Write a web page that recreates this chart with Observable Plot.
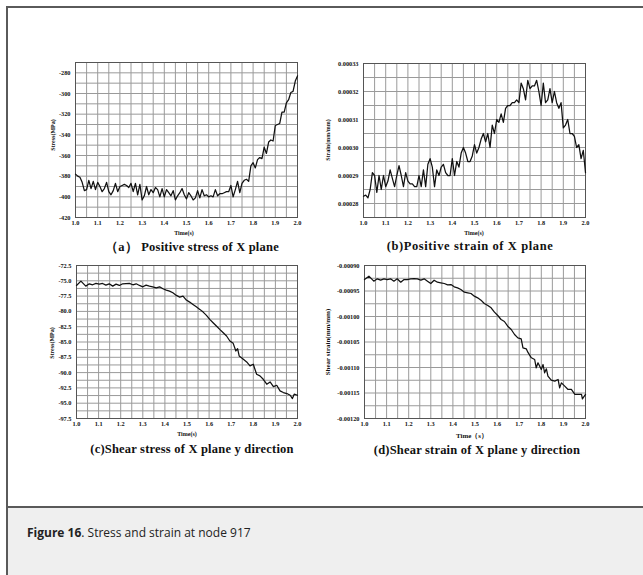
<!DOCTYPE html>
<html>
<head>
<meta charset="utf-8">
<script src="https://cdn.jsdelivr.net/npm/d3@7"></script>
<script src="https://cdn.jsdelivr.net/npm/@observablehq/plot@0.6"></script>
<style>
  body { margin: 0; background: #fff; }
  #root { position: relative; width: 643px; height: 575px; overflow: hidden; background: #fff; }
  .abs { position: absolute; white-space: nowrap; }
  .ser { font-family: "Liberation Serif", "Times New Roman", serif; font-weight: bold; color: #111; }
  .cap { font-size: 12.5px; transform: translate(-50%, -50%); }
  .xl { font-size: 6px; transform: translate(-50%, -50%); }
  .yl { font-size: 6px; transform: translate(-50%, -50%) rotate(-90deg); }
  svg { overflow: visible; }
</style>
</head>
<body>
<div id="root">
  <div class="abs" style="left:6px;top:6px;width:640px;height:500px;border-left:2px solid #5a5a5a;border-top:2px solid #5a5a5a;"></div>
  <div class="abs" style="left:6px;top:506px;width:640px;height:69px;background:#efefef;border-left:2px solid #5a5a5a;border-top:2px solid #5a5a5a;"></div>
  <div class="abs" id="figcap" style="left:27px;top:524px;font-family:'Open Sans',sans-serif;font-size:12.5px;color:#222;transform:scaleX(0.96);transform-origin:0 0;">
    <b>Figure 16</b>. Stress and strain at node 917
  </div>
</div>
<script>
// ---------- data ----------
const time01 = [1.00,1.01,1.02,1.03,1.04,1.05,1.06,1.07,1.08,1.09,
  1.10,1.11,1.12,1.13,1.14,1.15,1.16,1.17,1.18,1.19,
  1.20,1.21,1.22,1.23,1.24,1.25,1.26,1.27,1.28,1.29,
  1.30,1.31,1.32,1.33,1.34,1.35,1.36,1.37,1.38,1.39,
  1.40,1.41,1.42,1.43,1.44,1.45,1.46,1.47,1.48,1.49,
  1.50,1.51,1.52,1.53,1.54,1.55,1.56,1.57,1.58,1.59,
  1.60,1.61,1.62,1.63,1.64,1.65,1.66,1.67,1.68,1.69,
  1.70,1.71,1.72,1.73,1.74,1.75,1.76,1.77,1.78,1.79,
  1.80,1.81,1.82,1.83,1.84,1.85,1.86,1.87,1.88,1.89,
  1.90,1.91,1.92,1.93,1.94,1.95,1.96,1.97,1.98,1.99,2.00];

// (a) positive stress of X plane, MPa
const stressA = [-378,-380,-381,-386,-394,-393,-384,-392,-385,-393,
  -386,-390,-395,-392,-386,-395,-398,-394,-387,-395,
  -390,-389,-388,-389,-391,-387,-395,-387,-398,-388,
  -403,-399,-390,-398,-393,-396,-391,-393,-400,-392,
  -400,-393,-396,-399,-394,-403,-399,-396,-392,-398,
  -402,-396,-399,-403,-401,-394,-401,-393,-399,-398,
  -400,-399,-400,-393,-399,-397,-397,-396,-395,-395,
  -389,-400,-393,-385,-396,-387,-384,-383,-385,-370,
  -367,-372,-364,-362,-363,-352,-358,-347,-345,-346,
  -331,-330,-329,-318,-318,-309,-306,-299,-298,-288,-283];

// (b) positive strain of X plane, mm/mm
const strainB = [0.0002826,0.000283,0.000282,0.000285,0.000291,0.000290,0.000284,0.000290,0.000285,0.000290,
  0.000286,0.000288,0.000292,0.000289,0.000286,0.000290,0.0002935,0.000290,0.000286,0.000291,
  0.000288,0.000287,0.000287,0.000286,0.000286,0.000290,0.000286,0.000292,0.000286,0.000294,
  0.000296,0.000293,0.000286,0.000292,0.000290,0.000293,0.000294,0.000291,0.000290,0.000290,
  0.000296,0.000290,0.000295,0.000293,0.000298,0.000300,0.000298,0.000295,0.000295,0.000297,
  0.000301,0.000298,0.000300,0.000303,0.000305,0.000302,0.000305,0.000300,0.000308,0.000305,
  0.000310,0.000309,0.000312,0.000309,0.000314,0.000315,0.000315,0.000316,0.000316,0.000317,
  0.000316,0.000323,0.000321,0.000317,0.000324,0.000321,0.000322,0.000322,0.000324,0.000320,
  0.000315,0.000323,0.000316,0.000317,0.000321,0.000316,0.000320,0.000316,0.000314,0.000316,
  0.000307,0.000308,0.000310,0.000305,0.000305,0.000304,0.000300,0.000301,0.000296,0.000299,0.000291];

// (c) shear stress of X plane y direction, MPa
const timeC = [1.000,1.020,1.042,1.058,1.073,1.088,1.103,1.118,1.133,1.148,1.164,1.179,1.194,1.209,1.239,1.255,1.270,1.285,
  1.300,1.315,1.330,1.345,1.361,1.376,1.391,1.406,1.421,1.436,1.452,1.467,1.482,1.497,1.512,1.527,1.542,1.558,1.573,
  1.588,1.603,1.618,1.633,1.648,1.664,1.679,1.694,1.709,1.721,1.729,1.736,1.755,1.770,1.785,1.800,1.815,1.830,1.845,
  1.861,1.876,1.891,1.906,1.921,1.936,1.952,1.967,1.977,1.985,2.000];
const shearStressC = [-75.76,-75.05,-75.87,-75.49,-75.65,-75.43,-75.54,-75.43,-75.71,-75.49,-75.87,-75.54,-75.76,-75.49,-75.43,-75.65,-75.49,-75.76,
  -75.98,-75.71,-75.87,-75.98,-76.14,-75.98,-76.30,-76.52,-76.68,-76.96,-77.39,-77.66,-77.50,-78.15,-78.48,-78.86,-79.24,-79.67,-80.11,
  -80.65,-81.30,-81.85,-82.39,-82.93,-83.48,-84.02,-84.84,-85.22,-86.47,-86.09,-87.28,-87.83,-88.26,-88.91,-88.64,-90.27,-90.54,-91.09,
  -91.90,-91.52,-92.28,-92.07,-92.99,-93.26,-93.42,-93.70,-94.24,-93.53,-93.70];

// (d) shear strain of X plane y direction, mm/mm
const timeD = [1.000,1.020,1.042,1.058,1.073,1.088,1.103,1.118,1.133,1.148,1.164,1.179,1.194,1.209,1.224,1.239,1.255,1.270,1.285,
  1.300,1.315,1.330,1.345,1.361,1.376,1.391,1.406,1.421,1.436,1.452,1.467,1.482,1.497,1.512,1.527,1.542,1.558,1.573,1.588,
  1.603,1.618,1.633,1.648,1.664,1.679,1.694,1.709,1.717,1.732,1.739,1.755,1.770,1.777,1.785,1.800,1.808,1.815,1.823,1.830,
  1.845,1.861,1.876,1.883,1.891,1.906,1.921,1.936,1.952,1.967,1.982,1.986,2.000];
const shearStrainD = [-0.0009275,-0.0009209,-0.0009307,-0.0009261,-0.0009288,-0.0009261,-0.0009275,-0.0009261,-0.0009307,-0.0009261,-0.0009327,-0.0009275,-0.0009275,-0.0009261,-0.0009255,-0.0009261,-0.0009288,-0.0009261,-0.0009307,
  -0.0009353,-0.0009288,-0.0009327,-0.0009340,-0.0009353,-0.0009379,-0.0009373,-0.0009418,-0.0009438,-0.0009471,-0.0009523,-0.0009536,-0.0009549,-0.0009601,-0.0009634,-0.0009680,-0.0009745,-0.0009784,-0.0009830,-0.0009915,
  -0.0009980,-0.0010059,-0.0010098,-0.0010190,-0.0010255,-0.0010353,-0.0010418,-0.0010438,-0.0010614,-0.0010634,-0.0010699,-0.0010810,-0.0010843,-0.0011007,-0.0010908,-0.0011039,-0.0010941,-0.0011105,-0.0011026,-0.0011170,
  -0.0011248,-0.0011268,-0.0011235,-0.0011399,-0.0011301,-0.0011366,-0.0011431,-0.0011431,-0.0011529,-0.0011529,-0.0011529,-0.0011614,-0.0011529];

// ticks and grid
const xTicks = [1.0,1.1,1.2,1.3,1.4,1.5,1.6,1.7,1.8,1.9,2.0];
const xGrid = [1.0,1.05,1.1,1.15,1.2,1.25,1.3,1.35,1.4,1.45,1.5,1.55,1.6,1.65,1.7,1.75,1.8,1.85,1.9,1.95,2.0];
const yTicksA = [-420,-400,-380,-360,-340,-320,-300,-280];
const yGridA = [-420,-410,-400,-390,-380,-370,-360,-350,-340,-330,-320,-310,-300,-290,-280,-270];
const yTicksB = [0.00028,0.00029,0.00030,0.00031,0.00032,0.00033];
const yGridB = [0.000275,0.00028,0.000285,0.00029,0.000295,0.00030,0.000305,0.00031,0.000315,0.00032,0.000325,0.00033];
const yTicksC = [-97.5,-95.0,-92.5,-90.0,-87.5,-85.0,-82.5,-80.0,-77.5,-75.0,-72.5];
const yGridC = [-97.5,-96.25,-95.0,-93.75,-92.5,-91.25,-90.0,-88.75,-87.5,-86.25,-85.0,-83.75,-82.5,-81.25,-80.0,-78.75,-77.5,-76.25,-75.0,-73.75,-72.5];
const yTicksD = [-0.00120,-0.00115,-0.00110,-0.00105,-0.00100,-0.00095,-0.00090];
const yGridD = [-0.00120,-0.001175,-0.00115,-0.001125,-0.00110,-0.001075,-0.00105,-0.001025,-0.00100,-0.000975,-0.00095,-0.000925,-0.00090];

const panels = [
  {t: time01, v: stressA, yDomain: [-420, -270], yTicks: yTicksA, yGrid: yGridA, fmt: d => String(d),
   fx: 75, fy: 62, fw: 222, fh: 155, mL: 40,
   ylab: "Stress(MPa)", ylx: 53, yly: 135, ylfs: 6,
   xlab: "Time(s)", xlx: 184, xly: 233, xlfs: 6,
   cap: "（a） Positive stress of X plane", cx: 192, cy: 247, ls: 0.2},
  {t: time01, v: strainB, yDomain: [0.000275, 0.00033], yTicks: yTicksB, yGrid: yGridB, fmt: d => d.toFixed(5),
   fx: 363, fy: 63, fw: 222, fh: 154, mL: 40,
   ylab: "Strain(mm/mm)", ylx: 328, yly: 140, ylfs: 6,
   xlab: "Time(s)", xlx: 474, xly: 233, xlfs: 6,
   cap: "(b)Positive strain of X plane", cx: 470, cy: 246, ls: 0.6},
  {t: timeC, v: shearStressC, yDomain: [-97.5, -72.5], yTicks: yTicksC, yGrid: yGridC, fmt: d => d.toFixed(1),
   fx: 76, fy: 265, fw: 221, fh: 153, mL: 40,
   ylab: "Stress(MPa)", ylx: 52, yly: 343, ylfs: 6,
   xlab: "Time(s)", xlx: 187, xly: 434, xlfs: 6,
   cap: "(c)Shear stress of X plane y direction", cx: 192, cy: 449, ls: 0.2},
  {t: timeD, v: shearStrainD, yDomain: [-0.00120, -0.00090], yTicks: yTicksD, yGrid: yGridD, fmt: d => d.toFixed(5),
   fx: 364, fy: 265, fw: 221, fh: 153, mL: 40,
   ylab: "Shear strain(mm/mm)", ylx: 328, yly: 342, ylfs: 7,
   xlab: "Time（s）", xlx: 472, xly: 436, xlfs: 7,
   cap: "(d)Shear strain of X plane y direction", cx: 477, cy: 450, ls: 0.2}
];

const root = document.getElementById("root");
for (const p of panels) {
  const data = p.t.map((t, i) => ({t, v: p.v[i]}));
  const mT = 5, mR = 6, mB = 12;
  const chart = Plot.plot({
    width: p.mL + p.fw + mR,
    height: mT + p.fh + mB,
    marginLeft: p.mL, marginRight: mR, marginTop: mT, marginBottom: mB,
    style: {fontFamily: "'Liberation Serif', serif", fontSize: "6.3px", fontWeight: "bold", color: "#111", background: "transparent"},
    x: {domain: [1, 2], ticks: xTicks, tickFormat: d => d.toFixed(1), tickSize: 0, tickPadding: 3, label: null},
    y: {domain: p.yDomain, ticks: p.yTicks, tickFormat: p.fmt, tickSize: 0, tickPadding: 5, label: null},
    marks: [
      Plot.gridX(xGrid, {stroke: "#9a9a9a", strokeOpacity: 1}),
      Plot.gridY(p.yGrid, {stroke: "#9a9a9a", strokeOpacity: 1}),
      Plot.frame({stroke: "#555"}),
      Plot.line(data, {x: "t", y: "v", stroke: "#111", strokeWidth: 1.25})
    ]
  });
  chart.style.position = "absolute";
  chart.style.left = (p.fx - p.mL) + "px";
  chart.style.top = (p.fy - mT) + "px";
  root.appendChild(chart);

  const add = (cls, text, x, y, fs, ls) => {
    const d = document.createElement("div");
    d.className = "abs ser " + cls;
    d.style.left = x + "px"; d.style.top = y + "px";
    if (fs) d.style.fontSize = fs + "px";
    if (ls) d.style.letterSpacing = ls + "px";
    d.textContent = text;
    root.appendChild(d);
  };
  add("yl", p.ylab, p.ylx, p.yly, p.ylfs);
  add("xl", p.xlab, p.xlx, p.xly, p.xlfs);
  add("cap", p.cap, p.cx, p.cy, null, p.ls);
}
</script>
</body>
</html>
